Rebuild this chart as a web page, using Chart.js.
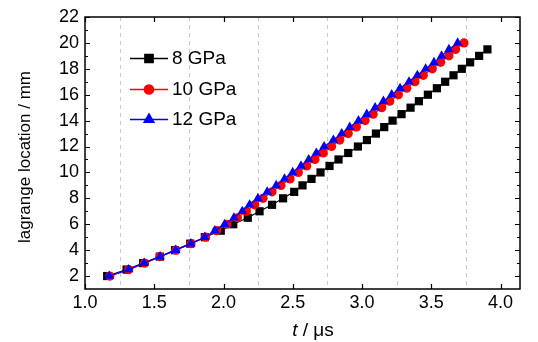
<!DOCTYPE html>
<html>
<head>
<meta charset="utf-8">
<script src="https://cdn.jsdelivr.net/npm/chart.js@4/dist/chart.umd.min.js"></script>
<style>
  html, body { margin: 0; padding: 0; background: #fff; }
  #wrap { width: 538px; height: 342px; position: relative; }
</style>
</head>
<body>
<div id="wrap"><canvas id="c" width="538" height="342"></canvas></div>
<script>
// ---- data ----
const seriesNames = ["8 GPa", "10 GPa", "12 GPa"];
const posBlack = [2,2.5,3,3.5,4,4.5,5,5.5,6,6.5,7,7.5,8,8.5,9,9.5,10,10.5,11,11.5,12,12.5,13,13.5,14,14.5,15,15.5,16,16.5,17,17.5,18,18.5,19,19.5];
const tBlack = [1.16,1.30,1.42,1.54,1.65,1.76,1.865,1.98,2.07,2.175,2.26,2.35,2.43,2.51,2.57,2.635,2.70,2.765,2.83,2.90,2.97,3.035,3.10,3.16,3.22,3.285,3.35,3.41,3.475,3.54,3.60,3.66,3.72,3.78,3.845,3.905];
const posRed = [2,2.5,3,3.5,4,4.5,5,5.5,6,6.5,7,7.5,8,8.5,9,9.5,10,10.5,11,11.5,12,12.5,13,13.5,14,14.5,15,15.5,16,16.5,17,17.5,18,18.5,19,19.5,20];
const tRed = [1.18,1.315,1.43,1.54,1.655,1.765,1.87,1.95,2.025,2.10,2.165,2.225,2.285,2.35,2.415,2.48,2.54,2.60,2.66,2.72,2.78,2.839,2.90,2.959,3.022,3.08,3.142,3.20,3.262,3.322,3.382,3.442,3.507,3.567,3.627,3.675,3.736];
const posBlue = [2,2.5,3,3.5,4,4.5,5,5.5,6,6.5,7,7.5,8,8.5,9,9.5,10,10.5,11,11.5,12,12.5,13,13.5,14,14.5,15,15.5,16,16.5,17,17.5,18,18.5,19,19.5,20];
const tBlue = [1.175,1.315,1.427,1.542,1.654,1.764,1.865,1.937,2.008,2.075,2.135,2.188,2.248,2.315,2.38,2.44,2.499,2.559,2.615,2.67,2.726,2.793,2.853,2.911,2.974,3.034,3.094,3.154,3.214,3.274,3.339,3.399,3.459,3.519,3.574,3.627,3.69];
const xTicks = [1.0,1.5,2.0,2.5,3.0,3.5,4.0];
const xGridDashed = [1.25,1.75,2.25,2.75,3.25,3.75];
const yTicks = [2,4,6,8,10,12,14,16,18,20,22];
const yMinorTicks = [3,5,7,9,11,13,15,17,19,21];
const xTitleItalic = "t";
const xTitleRest = " / \u03bcs";
const yTitle = "lagrange location / mm";

const FONT = "'Liberation Sans', Arial, sans-serif";

function pairs(ts, ps) { return ts.map((t, i) => ({ x: t, y: ps[i] })); }

const frame = {
  id: 'frame',
  beforeDatasetsDraw(chart) {
    const { ctx, chartArea: a, scales: { x } } = chart;
    ctx.save();
    ctx.strokeStyle = '#c8c8c8';
    ctx.lineWidth = 1;
    ctx.setLineDash([4, 4]);
    xGridDashed.forEach(v => {
      const px = Math.round(x.getPixelForValue(v)) + 0.5;
      ctx.beginPath(); ctx.moveTo(px, a.top); ctx.lineTo(px, a.bottom); ctx.stroke();
    });
    ctx.restore();
  },
  afterDatasetsDraw(chart) {
    const { ctx, chartArea: a, scales: { x, y } } = chart;
    ctx.save();
    ctx.strokeStyle = '#000';
    ctx.lineWidth = 1.5;
    ctx.strokeRect(a.left, a.top, a.right - a.left, a.bottom - a.top);
    ctx.lineWidth = 1.2;
    ctx.beginPath();
    xTicks.forEach(v => {
      const px = Math.round(x.getPixelForValue(v)) + 0.5;
      ctx.moveTo(px, a.bottom); ctx.lineTo(px, a.bottom - 5);
      ctx.moveTo(px, a.top); ctx.lineTo(px, a.top + 5);
    });
    yTicks.forEach(v => {
      const py = Math.round(y.getPixelForValue(v)) + 0.5;
      ctx.moveTo(a.left, py); ctx.lineTo(a.left + 5, py);
      ctx.moveTo(a.right, py); ctx.lineTo(a.right - 5, py);
    });
    yMinorTicks.forEach(v => {
      const py = Math.round(y.getPixelForValue(v)) + 0.5;
      ctx.moveTo(a.left, py); ctx.lineTo(a.left + 3, py);
      ctx.moveTo(a.right, py); ctx.lineTo(a.right - 3, py);
    });
    ctx.stroke();

    // legend inside plot
    const rows = [58, 89, 119];
    chart.data.datasets.forEach((ds, i) => {
      const ry = rows[i];
      ctx.strokeStyle = ds.borderColor; ctx.lineWidth = 1.5;
      ctx.beginPath(); ctx.moveTo(130, ry + 0.5); ctx.lineTo(168, ry + 0.5); ctx.stroke();
      Chart.helpers.drawPoint(ctx, {
        pointStyle: ds.pointStyle, radius: ds.pointRadius, borderWidth: 1, rotation: 0
      }, 149, ry + 0.5);
      ctx.fillStyle = ds.pointBackgroundColor; ctx.strokeStyle = ds.borderColor;
      ctx.fill();
      ctx.fillStyle = '#000';
      ctx.font = '19px ' + FONT;
      ctx.textBaseline = 'middle'; ctx.textAlign = 'left';
      ctx.fillText(ds.label, 172, ry + 1);
    });

    // axis titles
    ctx.fillStyle = '#000';
    ctx.textBaseline = 'alphabetic';
    ctx.font = 'italic 19px ' + FONT;
    const w1 = ctx.measureText(xTitleItalic).width;
    ctx.font = '19px ' + FONT;
    const w2 = ctx.measureText(xTitleRest).width;
    const cx = 313;
    let sx = cx - (w1 + w2) / 2;
    ctx.font = 'italic 19px ' + FONT;
    ctx.fillText(xTitleItalic, sx, 336);
    ctx.font = '19px ' + FONT;
    ctx.fillText(xTitleRest, sx + w1, 336);

    ctx.translate(25, 157);
    ctx.rotate(-Math.PI / 2);
    ctx.font = '17px ' + FONT;
    ctx.textAlign = 'center'; ctx.textBaseline = 'middle';
    ctx.fillText(yTitle, 0, 0);
    ctx.restore();
  }
};

const ctx = document.getElementById('c').getContext('2d');
new Chart(ctx, {
  type: 'scatter',
  data: {
    datasets: [
      { label: seriesNames[0], data: pairs(tBlack, posBlack), borderColor: '#000000', backgroundColor: '#000000',
        pointBackgroundColor: '#000000', pointStyle: 'rect', pointRadius: 5.8, order: 2 },
      { label: seriesNames[1], data: pairs(tRed, posRed), borderColor: '#ff0000', backgroundColor: '#ff0000',
        pointBackgroundColor: '#ff0000', pointStyle: 'circle', pointRadius: 4.6, order: 1 },
      { label: seriesNames[2], data: pairs(tBlue, posBlue), borderColor: '#0000ff', backgroundColor: '#0000ff',
        pointBackgroundColor: '#0000ff', pointStyle: 'triangle', pointRadius: 5.6, order: 0 }
    ].map(d => Object.assign(d, { showLine: true, borderWidth: 1.2, pointBorderWidth: 0, pointHoverRadius: 5 }))
  },
  options: {
    responsive: false,
    animation: false,
    devicePixelRatio: 1,
    layout: { padding: { left: 0, right: 18, top: 17, bottom: 0 } },
    plugins: { legend: { display: false }, tooltip: { enabled: false } },
    scales: {
      x: {
        type: 'linear', min: 1.0, max: 4.14,
        afterBuildTicks: s => { s.ticks = xTicks.map(v => ({ value: v })); },
        afterFit: s => { s.height = 53; },
        grid: { display: false, drawTicks: false },
        border: { display: false },
        ticks: { color: '#000', font: { family: FONT, size: 18 }, padding: 3, maxRotation: 0,
                 callback: v => Number(v).toFixed(1) }
      },
      y: {
        type: 'linear', min: 1, max: 22,
        afterBuildTicks: s => { s.ticks = yTicks.map(v => ({ value: v })); },
        afterFit: s => { s.width = 85; },
        grid: { display: false, drawTicks: false },
        border: { display: false },
        ticks: { color: '#000', font: { family: FONT, size: 18 }, padding: 6 }
      }
    }
  },
  plugins: [frame]
});
</script>
</body>
</html>
